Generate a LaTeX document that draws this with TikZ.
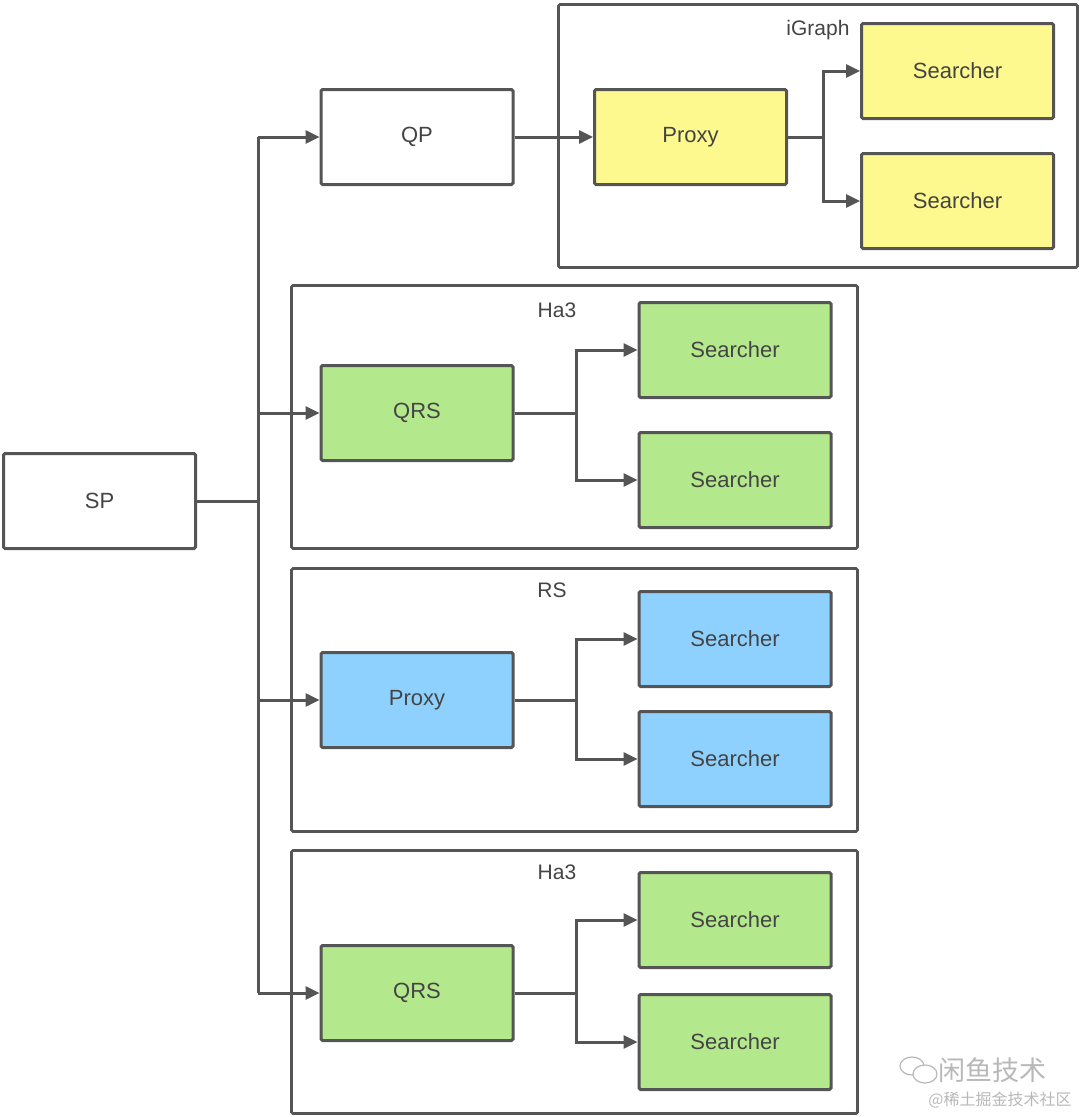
\documentclass[tikz,border=0pt]{standalone}
\usepackage{fontspec}
\setmainfont{Liberation Sans}
\newfontfamily\cjk{Noto Sans CJK SC}
\usetikzlibrary{arrows.meta}
\definecolor{ln}{HTML}{555555}
\definecolor{tx}{HTML}{444444}
\definecolor{yel}{HTML}{FDF98F}
\definecolor{grn}{HTML}{B4E88D}
\definecolor{blu}{HTML}{8FD1FE}
\definecolor{wm}{HTML}{B8B8B8}
\begin{document}
\begin{tikzpicture}[x=1pt,y=-1pt,
  box/.style={draw=ln,line width=3pt,rounded corners=1.5pt,minimum width=192pt,minimum height=95pt,inner sep=0pt,
    font=\fontsize{22}{26}\selectfont,text=tx},
  cont/.style={draw=ln,line width=2.8pt,rounded corners=1.5pt,inner sep=0pt},
  lab/.style={font=\fontsize{21}{25}\selectfont,text=tx,inner sep=0pt},
  conn/.style={draw=ln,line width=3pt},
  arr/.style={conn,-{Triangle[length=14pt,width=13pt]}}]
\useasboundingbox (0,0) rectangle (1080,1117);
% containers
\node[cont,minimum width=519pt,minimum height=263pt] (cig) at (818,136) {};
\node[cont,minimum width=566pt,minimum height=263pt] (cha1) at (574.5,417) {};
\node[cont,minimum width=566pt,minimum height=263pt] (crs) at (574.5,700) {};
\node[cont,minimum width=566pt,minimum height=263pt] (cha2) at (574.5,982) {};
\node[lab] (lig) at (818,30) {iGraph};
\node[lab] (lha1) at (557,310) {Ha3};
\node[lab] (lrs) at (552,590) {RS};
\node[lab] (lha2) at (557,872) {Ha3};
% boxes
\node[box,fill=white] (sp) at (99.5,501) {SP};
\node[box,fill=white] (qp) at (417,137) {QP};
\node[box,fill=yel] (px1) at (690.5,137) {Proxy};
\node[box,fill=yel] (s1a) at (957.5,71) {Searcher};
\node[box,fill=yel] (s1b) at (957.5,201) {Searcher};
\node[box,fill=grn] (qrs1) at (417,413) {QRS};
\node[box,fill=grn] (s2a) at (735,350) {Searcher};
\node[box,fill=grn] (s2b) at (735,480) {Searcher};
\node[box,fill=blu] (px2) at (417,700) {Proxy};
\node[box,fill=blu] (s3a) at (735,639) {Searcher};
\node[box,fill=blu] (s3b) at (735,759) {Searcher};
\node[box,fill=grn] (qrs2) at (417,993) {QRS};
\node[box,fill=grn] (s4a) at (735,920) {Searcher};
\node[box,fill=grn] (s4b) at (735,1042) {Searcher};
% bus
\coordinate (bt) at (258,137);
\coordinate (bb) at (258,993);
\draw[conn] (sp.east) -- (sp.east -| bt);
\draw[conn] (bt) -- (bb);
\draw[arr] (bt) -- (qp.west);
\draw[arr] (qrs1.west -| bt) -- (qrs1.west);
\draw[arr] (px2.west -| bt) -- (px2.west);
\draw[arr] (bb) -- (qrs2.west);
\draw[arr] (qp.east) -- (px1.west);
% splits
\draw[arr] (px1.east) -- (823,137) |- (s1a.west);
\draw[arr] (823,137) |- (s1b.west);
\draw[arr] (qrs1.east) -- (576,413) |- (s2a.west);
\draw[arr] (576,413) |- (s2b.west);
\draw[arr] (px2.east) -- (576,700) |- (s3a.west);
\draw[arr] (576,700) |- (s3b.west);
\draw[arr] (qrs2.east) -- (576,993) |- (s4a.west);
\draw[arr] (576,993) |- (s4b.west);
% watermark
\draw[wm,line width=1.2pt] (912,1066) ellipse (12pt and 9pt);
\draw[wm,line width=1.2pt,fill=white] (925,1074) ellipse (12pt and 9pt);
\node[text=wm,font=\cjk\fontsize{27}{30}\selectfont,inner sep=0pt] (wm1) at (992,1070) {闲鱼技术};
\node[text=wm,font=\cjk\fontsize{16}{19}\selectfont,inner sep=0pt] (wm2) at (1000,1100) {@稀土掘金技术社区};
\end{tikzpicture}
\end{document}
